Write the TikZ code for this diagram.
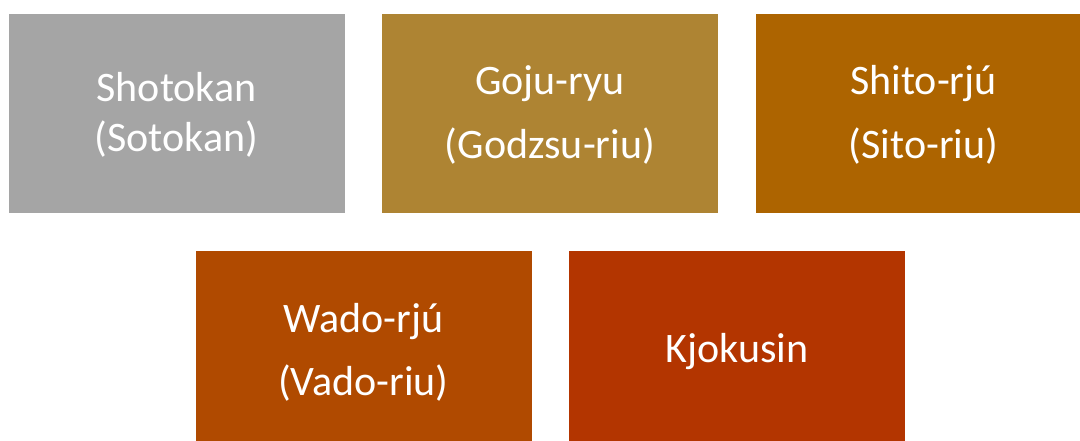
\documentclass[tikz,border=0pt]{standalone}
\usepackage{fontspec}
\setmainfont{Carlito}
\definecolor{cGray}{HTML}{A5A5A5}
\definecolor{cGold}{HTML}{AE8433}
\definecolor{cAmber}{HTML}{AD6400}
\definecolor{cRust}{HTML}{B04A00}
\definecolor{cRed}{HTML}{B33500}
\tikzset{
  stylebox/.style={rectangle, draw=white, line width=0.6pt, text=white,
    minimum width=337pt, minimum height=200pt, inner sep=0pt,
    align=center, font=\fontsize{42}{50}\selectfont},
  boxlabel/.style={text=white, align=center, inner sep=0pt,
    font=\fontsize{42}{50}\selectfont}
}
\begin{document}
\begin{tikzpicture}[x=1pt,y=-1pt]
  \useasboundingbox (0,0) rectangle (1080,441);
  \clip (0,0) rectangle (1080,441);
  \node[stylebox, fill=cGray]  (shotokan) at (176.5,113) {};
  \node[stylebox, fill=cGold]  (goju)     at (550,113)   {};
  \node[stylebox, fill=cAmber] (shito)    at (923.5,113) {};
  \node[stylebox, fill=cRust]  (wado)     at (363.5,350) {};
  \node[stylebox, fill=cRed]   (kjokusin) at (737,350)   {};
  \node[boxlabel] (shotokanT) at ([yshift=-2pt]shotokan.center) {Shotokan\\(Sotokan)};
  \node[boxlabel] (gojuT)     at ([yshift=-2pt]goju.center)     {Goju-ryu\\[14pt](Godzsu-riu)};
  \node[boxlabel] (shitoT)    at ([yshift=-2pt]shito.center)    {Shito-rjú\\[14pt](Sito-riu)};
  \node[boxlabel] (wadoT)     at ([yshift=-2pt]wado.center)     {Wado-rjú\\[13pt](Vado-riu)};
  \node[boxlabel] (kjokusinT) at ([yshift=-2pt]kjokusin.center) {Kjokusin};
\end{tikzpicture}
\end{document}
